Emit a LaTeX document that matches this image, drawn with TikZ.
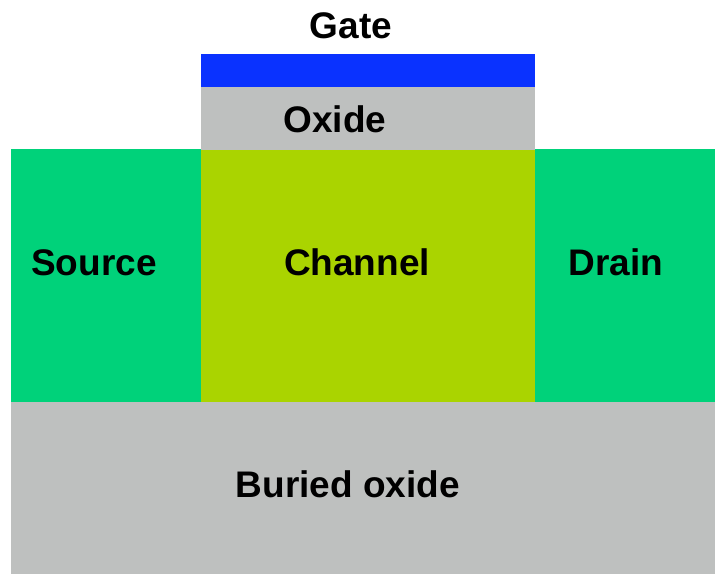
\documentclass[tikz,border=0pt]{standalone}
\usepackage{fontspec}
\setmainfont{Liberation Sans}
\definecolor{gateblue}{HTML}{0A32FF}
\definecolor{oxgray}{HTML}{BEC0BF}
\definecolor{sdgreen}{HTML}{00D27A}
\definecolor{chgreen}{HTML}{AAD400}
\begin{document}
\begin{tikzpicture}[x=1pt,y=-1pt,
  lbl/.style={anchor=base,inner sep=0pt,font=\fontsize{37}{40}\selectfont\bfseries}]
\useasboundingbox (0,0) rectangle (715,574);
\fill[gateblue] (201,54) rectangle (535,87);
\fill[oxgray] (201,87) rectangle (535,150);
\fill[sdgreen] (11,148.5) rectangle (201,401.5);
\fill[chgreen] (201,150) rectangle (535,401.5);
\fill[sdgreen] (535,148.5) rectangle (715,401.5);
\fill[oxgray] (11,401.5) rectangle (715,574);
\node[lbl] (gate) at (351,38) {Gate};
\node[lbl] (oxide) at (335,132) {Oxide};
\node[lbl] (source) at (94,275) {Source};
\node[lbl] (channel) at (357,275) {Channel};
\node[lbl] (drain) at (616,275) {Drain};
\node[lbl] (box) at (348,497) {Buried oxide};
\end{tikzpicture}
\end{document}
